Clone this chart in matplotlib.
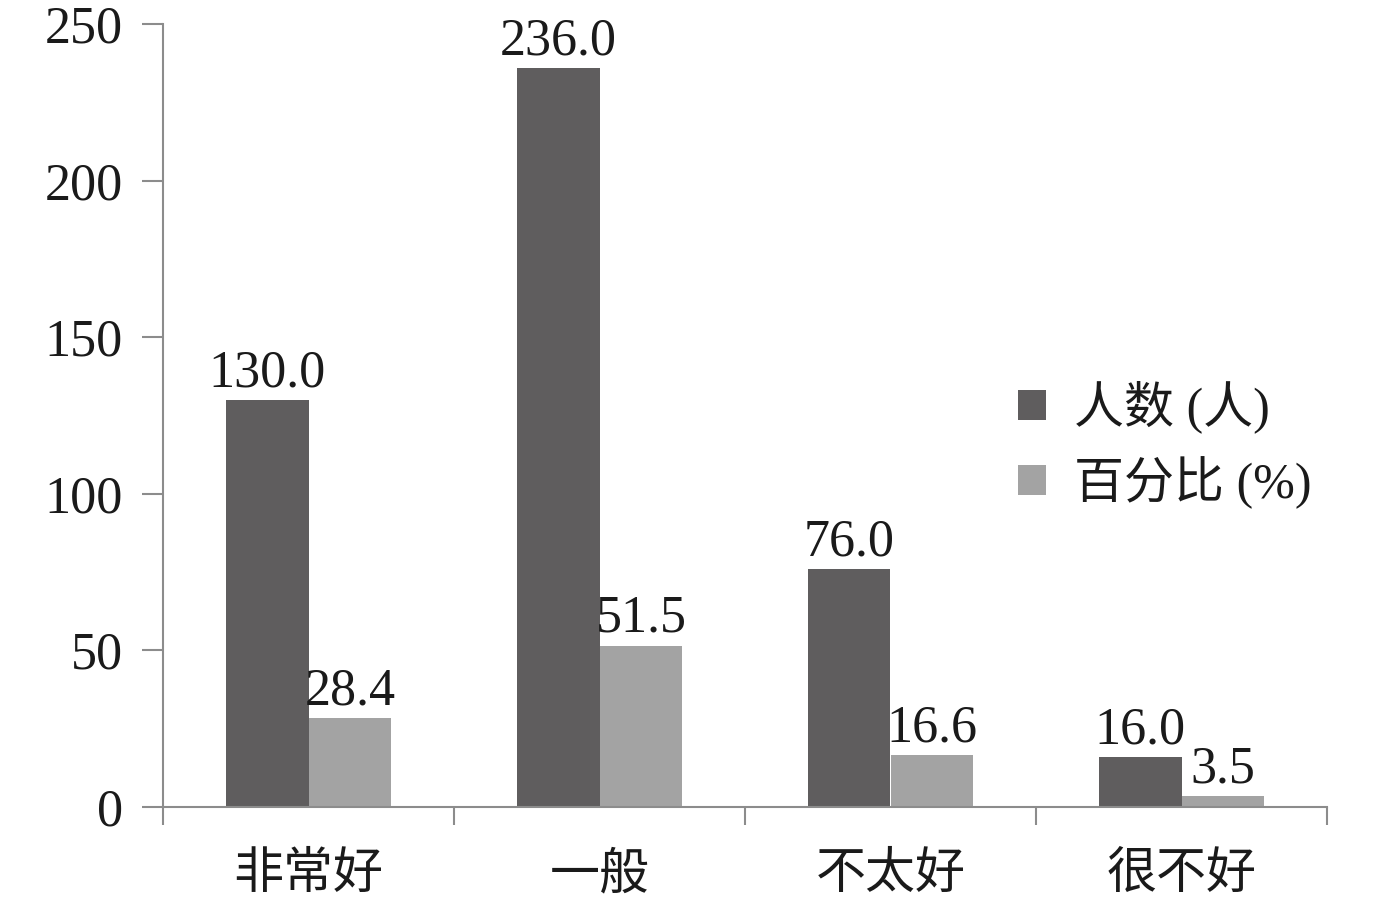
import matplotlib.pyplot as plt
import numpy as np

plt.rcParams['font.family'] = ['Liberation Serif', 'Noto Sans CJK SC', 'DejaVu Sans']

categories = ["非常好", "一般", "不太好", "很不好"]
people = [130.0, 236.0, 76.0, 16.0]
percent = [28.4, 51.5, 16.6, 3.5]
series_names = ["人数 (人)", "百分比 (%)"]

dark = "#5f5d5e"
light = "#a3a3a3"
axis_grey = "#8c8c8c"

fig = plt.figure(figsize=(13.78, 8.97), dpi=100)
ax = fig.add_axes([163 / 1378, 1 - 807 / 897, (1327 - 163) / 1378, (807 - 24) / 897])

x = np.arange(len(categories))
w = 0.285
b1 = ax.bar(x - w / 2, people, w, color=dark, label=series_names[0])
b2 = ax.bar(x + w / 2, percent, w, color=light, label=series_names[1])

ax.bar_label(b1, fmt="%.1f", padding=2, fontsize=37.5, color="#1a1a1a")
ax.bar_label(b2, fmt="%.1f", padding=2, fontsize=37.5, color="#1a1a1a")

ax.set_xlim(-0.5, 3.5)
ax.set_ylim(0, 250)
ax.set_yticks([0, 50, 100, 150, 200, 250])

ax.set_xticks(np.arange(-0.5, 4, 1))
ax.set_xticklabels([])
ax.set_xticks(x, minor=True)
ax.set_xticklabels(categories, minor=True, fontsize=36, color="#1a1a1a")
ax.tick_params(axis="x", which="major", length=13, width=1.5, color=axis_grey, direction="out")
ax.tick_params(axis="x", which="minor", length=0, pad=33)
ax.tick_params(axis="y", length=15, width=1.5, color=axis_grey, labelsize=37.5,
               labelcolor="#1a1a1a", pad=14)

for s in ["top", "right"]:
    ax.spines[s].set_visible(False)
for s in ["left", "bottom"]:
    ax.spines[s].set_color(axis_grey)
    ax.spines[s].set_linewidth(1.5)

leg = ax.legend(loc="upper left", bbox_to_anchor=(0.696, 0.602), frameon=False,
                fontsize=36, handlelength=0.56, handleheight=0.56,
                handletextpad=0.55, labelspacing=0.45, labelcolor="#1a1a1a")

fig.savefig("out.png", dpi=100)
